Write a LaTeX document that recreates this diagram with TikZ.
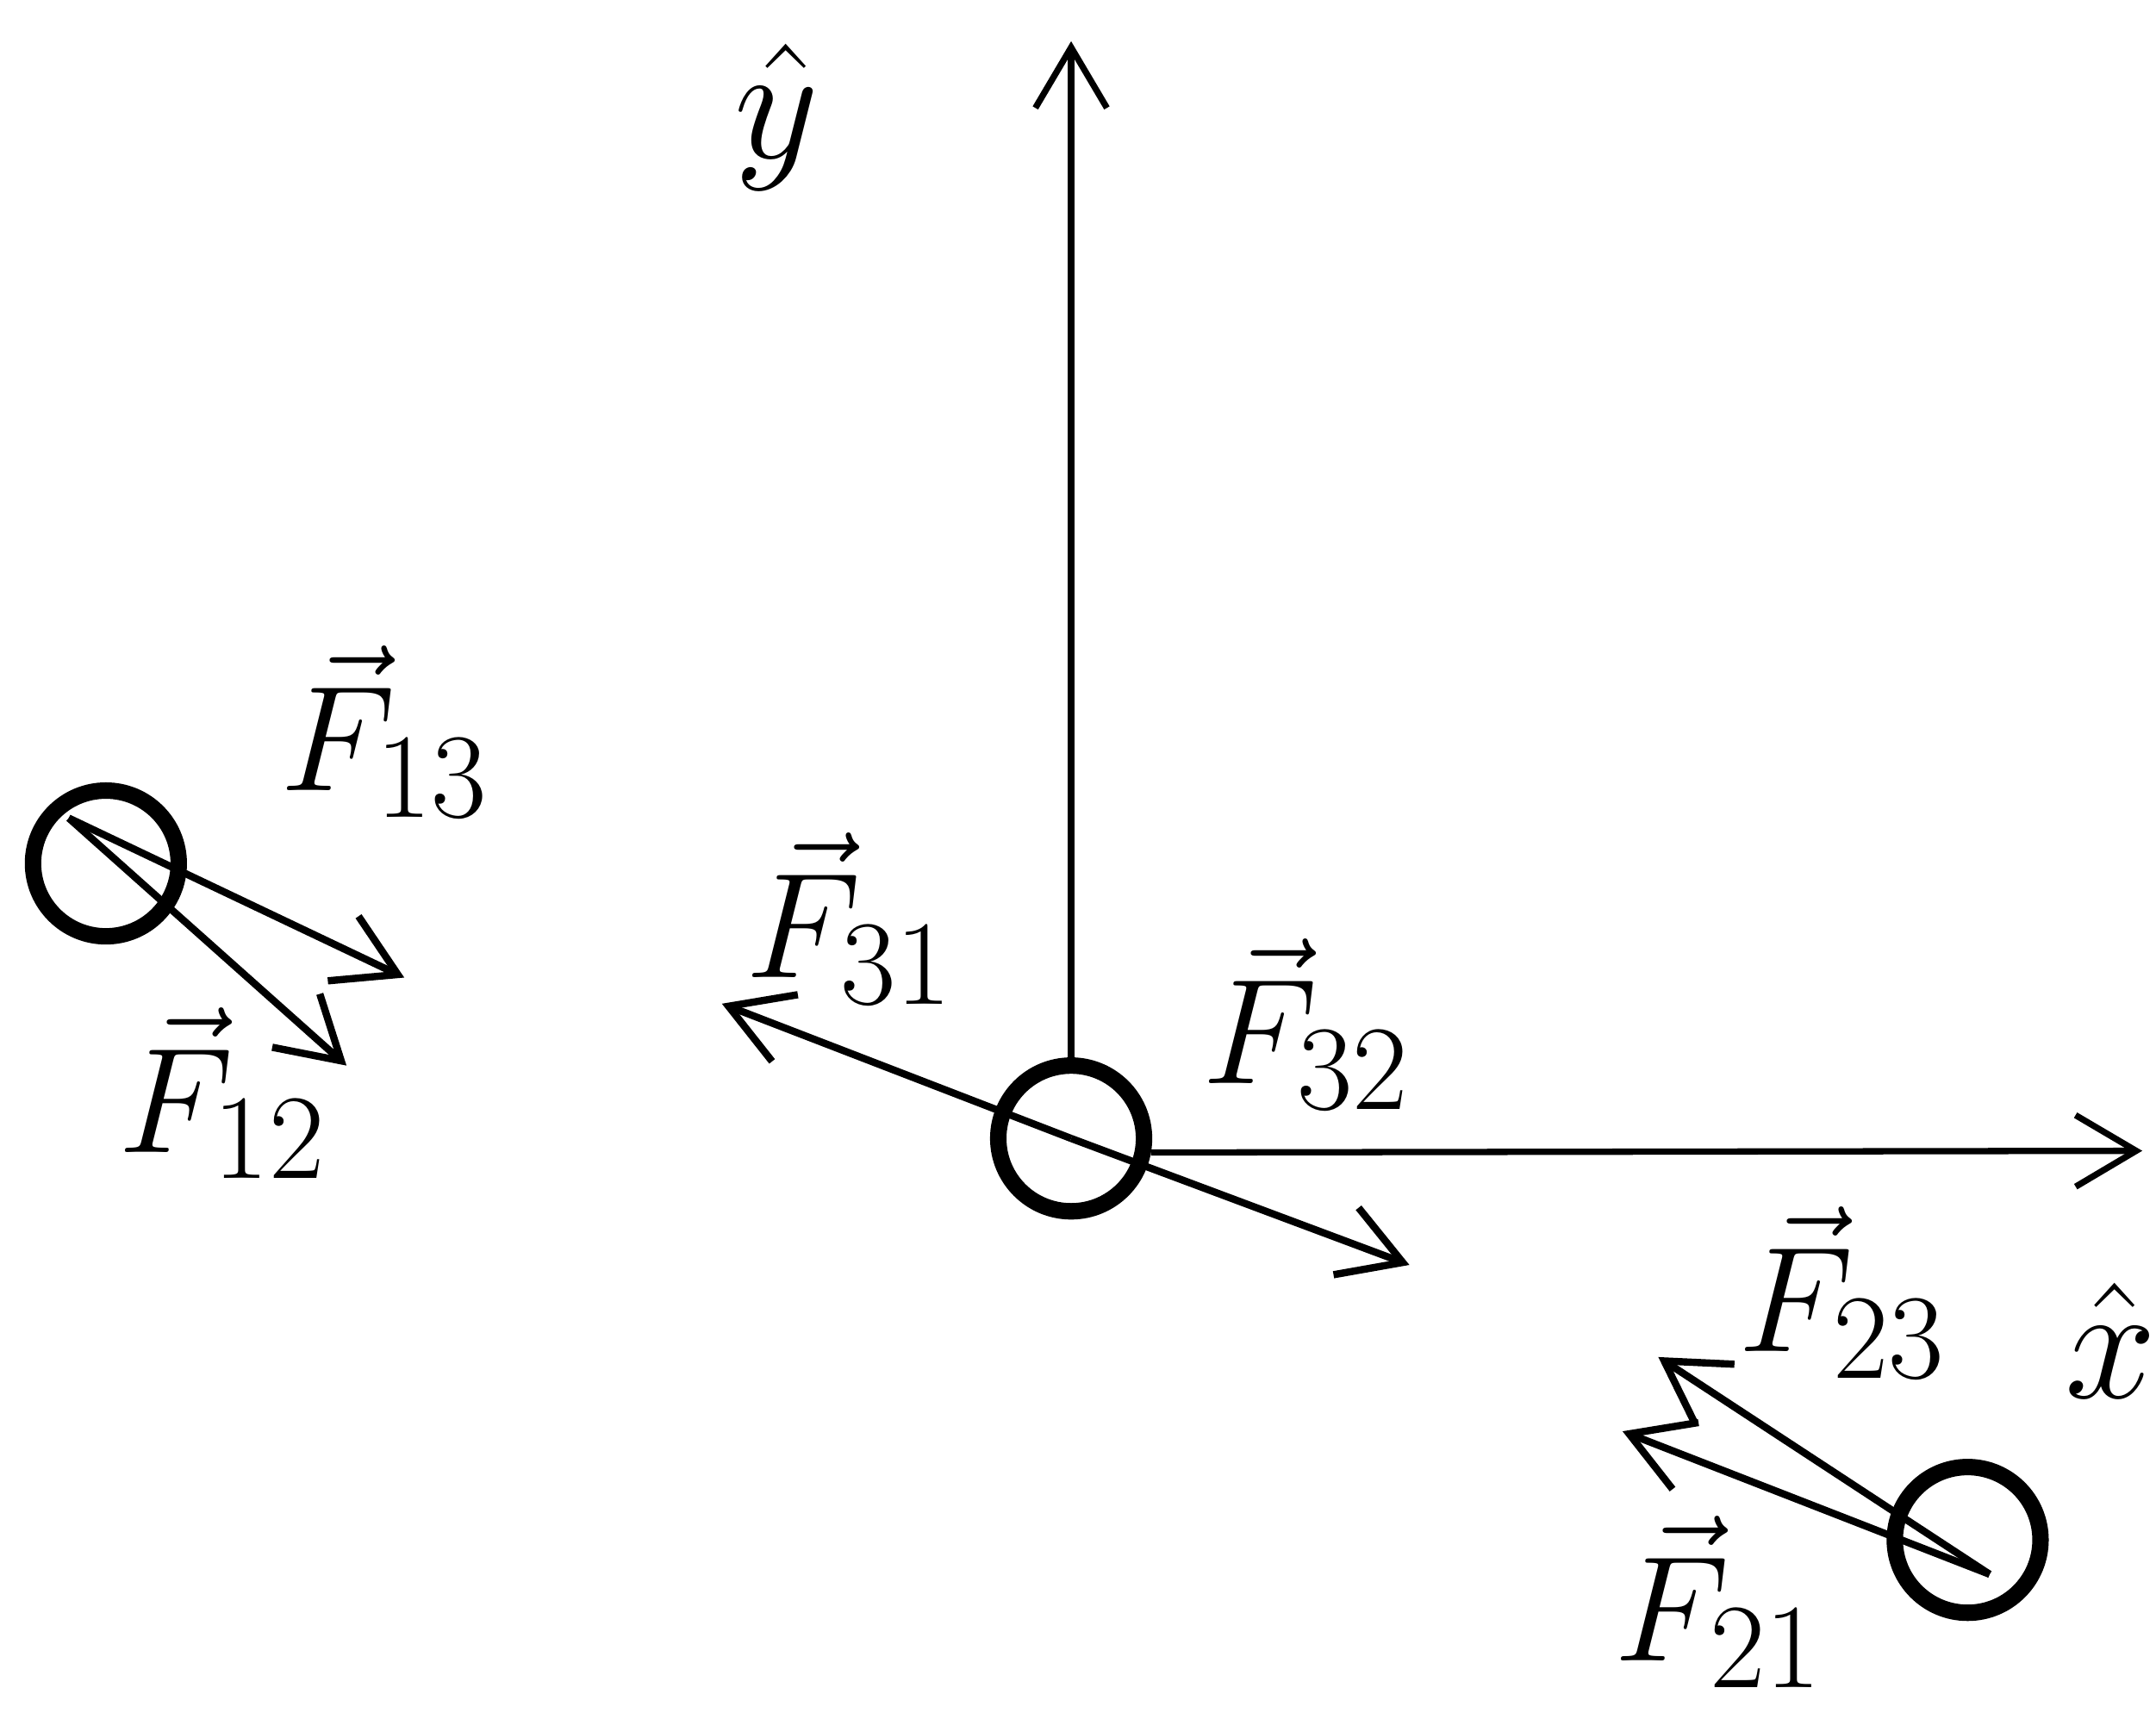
\RequirePackage{fix-cm}
\documentclass[tikz,border=0pt]{standalone}
\usepackage{amsmath}
\usepackage{tikz}
\usetikzlibrary{arrows.meta}
\DeclareMathSizes{31}{31}{25}{20}

\begin{document}
\begin{tikzpicture}[>={Straight Barb[length=4.4mm,width=5.2mm]},
    particle/.style={circle,draw,line width=3.4pt,minimum size=1.06cm,inner sep=0pt},
    force/.style={->,line width=1.5pt},
    axis/.style={->,line width=1.3pt},
    lab/.style={inner sep=0pt,font=\fontsize{31}{37}\selectfont},
    unit/.style={inner sep=0pt,font=\fontsize{34}{40}\selectfont}]
    \useasboundingbox (0,0) rectangle (15.68,-12.50);

    \node[particle] (p1) at (0.77,-6.28) {};
    \node[particle] (p2) at (14.31,-11.20) {};
    \node[particle] (p3) at (7.79,-8.28) {};

    \coordinate (ytip) at (7.79,-0.30);
    \coordinate (xtip) at (15.58,-8.37);
    \coordinate (s1) at (0.50,-5.95);
    \coordinate (s2) at (14.47,-11.45);
    \coordinate (tip13) at (2.94,-7.11);
    \coordinate (tip12) at (2.52,-7.75);
    \coordinate (tip31) at (5.25,-7.30);
    \coordinate (tip32) at (10.25,-9.20);
    \coordinate (tip23) at (12.06,-9.87);
    \coordinate (tip21) at (11.80,-10.41);

    \draw[axis] (p3.north) -- (ytip);
    \draw[axis] (p3.-10) -- (xtip);
    \draw[force] (s1) -- (tip13);
    \draw[force] (s1) -- (tip12);
    \draw[force] (p3.center) -- (tip31);
    \draw[force] (p3.center) -- (tip32);
    \draw[force] (s2) -- (tip23);
    \draw[force] (s2) -- (tip21);

    \node[lab] (f13) at (2.80,-5.32) {$\vec{F}_{13}$};
    \node[lab] (f12) at (1.62,-7.95) {$\vec{F}_{12}$};
    \node[lab] (f31) at (6.18,-6.68) {$\vec{F}_{31}$};
    \node[lab] (f32) at (9.50,-7.45) {$\vec{F}_{32}$};
    \node[lab] (f23) at (13.40,-9.40) {$\vec{F}_{23}$};
    \node[lab] (f21) at (12.50,-11.65) {$\vec{F}_{21}$};
    \node[unit] (yhat) at (5.65,-0.85) {$\hat{y}$};
    \node[unit] (xhat) at (15.35,-9.75) {$\hat{x}$};
\end{tikzpicture}
\end{document}
